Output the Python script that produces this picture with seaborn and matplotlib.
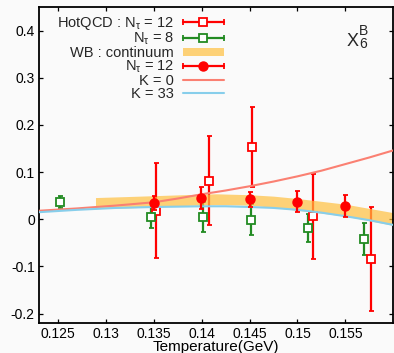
import matplotlib
matplotlib.use("Agg")
import matplotlib.pyplot as plt
import matplotlib.patches as mpatches
import matplotlib.transforms as mtransforms
from matplotlib.lines import Line2D
from matplotlib.legend_handler import HandlerBase, HandlerPatch
import numpy as np
import pandas as pd
import seaborn as sns

# HotQCD, N_tau = 12
T_hot12 = [0.1352, 0.1408, 0.1453, 0.1516, 0.1577]
chi_hot12 = [0.018, 0.082, 0.154, 0.006, -0.085]
err_hot12 = [0.101, 0.094, 0.085, 0.090, 0.110]

# HotQCD, N_tau = 8
T_hot8 = [0.1252, 0.1347, 0.1401, 0.1451, 0.1511, 0.1570]
chi_hot8 = [0.036, 0.004, 0.005, -0.001, -0.018, -0.042]
err_hot8 = [0.013, 0.023, 0.031, 0.033, 0.030, 0.034]

# WB, N_tau = 12
T_wb12 = [0.1350, 0.1399, 0.1450, 0.1499, 0.1550]
chi_wb12 = [0.034, 0.045, 0.042, 0.037, 0.0275]
err_wb12 = [0.015, 0.024, 0.016, 0.022, 0.023]

# WB continuum band
T_band = [0.1289, 0.132, 0.135, 0.138, 0.1415, 0.145, 0.1475, 0.15, 0.1525, 0.155, 0.1575, 0.16]
band_lo = [0.0225, 0.024, 0.026, 0.029, 0.031, 0.030, 0.025, 0.019, 0.013, 0.0065, -0.003, -0.013]
band_hi = [0.046, 0.048, 0.050, 0.052, 0.054, 0.052, 0.049, 0.044, 0.038, 0.032, 0.023, 0.014]

# HRG-type curves
T_k0 = [0.123, 0.127, 0.131, 0.135, 0.1375, 0.14, 0.1425, 0.145, 0.1475, 0.15, 0.1525, 0.155, 0.1575, 0.16]
chi_k0 = [0.018, 0.023, 0.029, 0.036, 0.044, 0.053, 0.061, 0.070, 0.080, 0.091, 0.103, 0.117, 0.131, 0.146]
T_k33 = [0.123, 0.127, 0.131, 0.135, 0.14, 0.1425, 0.145, 0.1475, 0.15, 0.1525, 0.155, 0.1575, 0.16]
chi_k33 = [0.015, 0.020, 0.024, 0.026, 0.0275, 0.0275, 0.026, 0.024, 0.020, 0.014, 0.0065, -0.002, -0.012]

xticks = [0.125, 0.13, 0.135, 0.14, 0.145, 0.15, 0.155]
xtick_labels = ["0.125", "0.13", "0.135", "0.14", "0.145", "0.15", "0.155"]
yticks = [-0.2, -0.1, 0, 0.1, 0.2, 0.3, 0.4]
ytick_labels = ["-0.2", "-0.1", "0", "0.1", "0.2", "0.3", "0.4"]

RED = "#ff0000"
GREEN = "#228b22"
BAND = "#ffc040"
SALMON = "#fa8072"
SKY = "#87ceeb"
BG = "#fafafa"

sns.set_theme(style="ticks")
plt.rcParams["font.family"] = ["Liberation Sans", "DejaVu Sans"]
plt.rcParams["mathtext.default"] = "regular"
plt.rcParams["axes.facecolor"] = BG
plt.rcParams["figure.facecolor"] = BG

fig = plt.figure(figsize=(3.94, 3.53), dpi=100)
ax = fig.add_axes([0.099, 0.085, 0.899, 0.895])

# HotQCD lattice points (drawn beneath the band)
ax.errorbar(T_hot12, chi_hot12, yerr=err_hot12, fmt="s", color=RED, ms=6, mfc="white",
            mec=RED, mew=1.3, elinewidth=1.6, capsize=1.8, capthick=1.3, zorder=1.5)
ax.errorbar(T_hot8, chi_hot8, yerr=err_hot8, fmt="s", color=GREEN, ms=6, mfc="white",
            mec=GREEN, mew=1.3, elinewidth=1.6, capsize=1.8, capthick=1.3, zorder=1.5)

# WB continuum band
ax.fill_between(T_band, band_lo, band_hi, color=BAND, alpha=0.7, lw=0, zorder=2)

# Model curves
curves = pd.DataFrame({"T": T_k0 + T_k33, "chi": chi_k0 + chi_k33,
                       "K": ["K = 0"] * len(T_k0) + ["K = 33"] * len(T_k33)})
sns.lineplot(data=curves, x="T", y="chi", hue="K", palette={"K = 0": SALMON, "K = 33": SKY},
             lw=1.5, ax=ax, legend=False, zorder=3, estimator=None, sort=False)

# WB N_tau = 12
ax.errorbar(T_wb12, chi_wb12, yerr=err_wb12, fmt="o", color=RED, ms=6.5,
            elinewidth=1.6, capsize=1.8, capthick=1.3, zorder=4)

ax.set_xlim(0.123, 0.16)
ax.set_ylim(-0.22, 0.45)
ax.set_xticks(xticks)
ax.set_xticklabels(xtick_labels)
ax.set_yticks(yticks)
ax.set_yticklabels(ytick_labels)
ax.tick_params(direction="in", length=3, width=0.9, top=True, right=True,
               labelsize=10, colors="black", pad=3)
ax.set_xlabel("Temperature(GeV)", fontsize=11, labelpad=-1, color="black")
ax.set_ylabel("")
for s in ax.spines.values():
    s.set_linewidth(1.3)
    s.set_color("black")

# Observable label: X with subscript 6 and superscript B
lx, ly = 0.868, 0.877
ax.text(lx, ly, "X", transform=ax.transAxes, fontsize=13, ha="left", va="baseline")
ax.text(lx, ly, "6", fontsize=10, ha="left", va="baseline",
        transform=mtransforms.offset_copy(ax.transAxes, fig, x=12.5, y=-2.5, units="dots"))
ax.text(lx, ly, "B", fontsize=10, ha="left", va="baseline",
        transform=mtransforms.offset_copy(ax.transAxes, fig, x=12.5, y=11, units="dots"))


class HandlerHBar(HandlerBase):
    def create_artists(self, legend, orig_handle, xdescent, ydescent, width, height, fontsize, trans):
        y = height / 2 - ydescent
        x0, x1 = -xdescent, width - xdescent
        c = orig_handle.get_color()
        bar = Line2D([x0, x1], [y, y], color=c, lw=1.6, transform=trans)
        caps = Line2D([x0, x1], [y, y], ls="none", marker="|", ms=4, mew=1.3, color=c, transform=trans)
        mk = Line2D([(x0 + x1) / 2], [y], ls="none", marker=orig_handle.get_marker(),
                    ms=orig_handle.get_markersize(), mfc=orig_handle.get_markerfacecolor(),
                    mec=orig_handle.get_markeredgecolor(), mew=orig_handle.get_markeredgewidth(),
                    transform=trans)
        return [bar, caps, mk]


def thin_patch(legend, orig_handle, xdescent, ydescent, width, height, fontsize):
    h = 5.5
    return mpatches.Rectangle((-xdescent, (height - h) / 2 - ydescent), width, h)


h_hot12 = Line2D([], [], color=RED, marker="s", ms=6, mfc="white", mec=RED, mew=1.3)
h_hot8 = Line2D([], [], color=GREEN, marker="s", ms=6, mfc="white", mec=GREEN, mew=1.3)
h_band = mpatches.Patch(color=BAND, alpha=0.7, lw=0)
h_wb12 = Line2D([], [], color=RED, marker="o", ms=6.5, mfc=RED, mec=RED, mew=1)
h_k0 = Line2D([], [], color=SALMON, lw=1.5)
h_k33 = Line2D([], [], color=SKY, lw=1.5)

labels = [r"HotQCD : N$_\tau$ = 12", r"N$_\tau$ = 8", "WB : continuum",
          r"N$_\tau$ = 12", "K = 0", "K = 33"]
leg = ax.legend([h_hot12, h_hot8, h_band, h_wb12, h_k0, h_k33], labels,
                handler_map={h_hot12: HandlerHBar(), h_hot8: HandlerHBar(), h_wb12: HandlerHBar(),
                             h_band: HandlerPatch(patch_func=thin_patch)},
                loc="upper right", bbox_to_anchor=(0.521, 0.975), frameon=False,
                markerfirst=False, fontsize=10.5, handlelength=2.8, handletextpad=0.6,
                labelspacing=-0.08, borderpad=0, borderaxespad=0)

fig.savefig("out.png", dpi=100, facecolor=BG)
